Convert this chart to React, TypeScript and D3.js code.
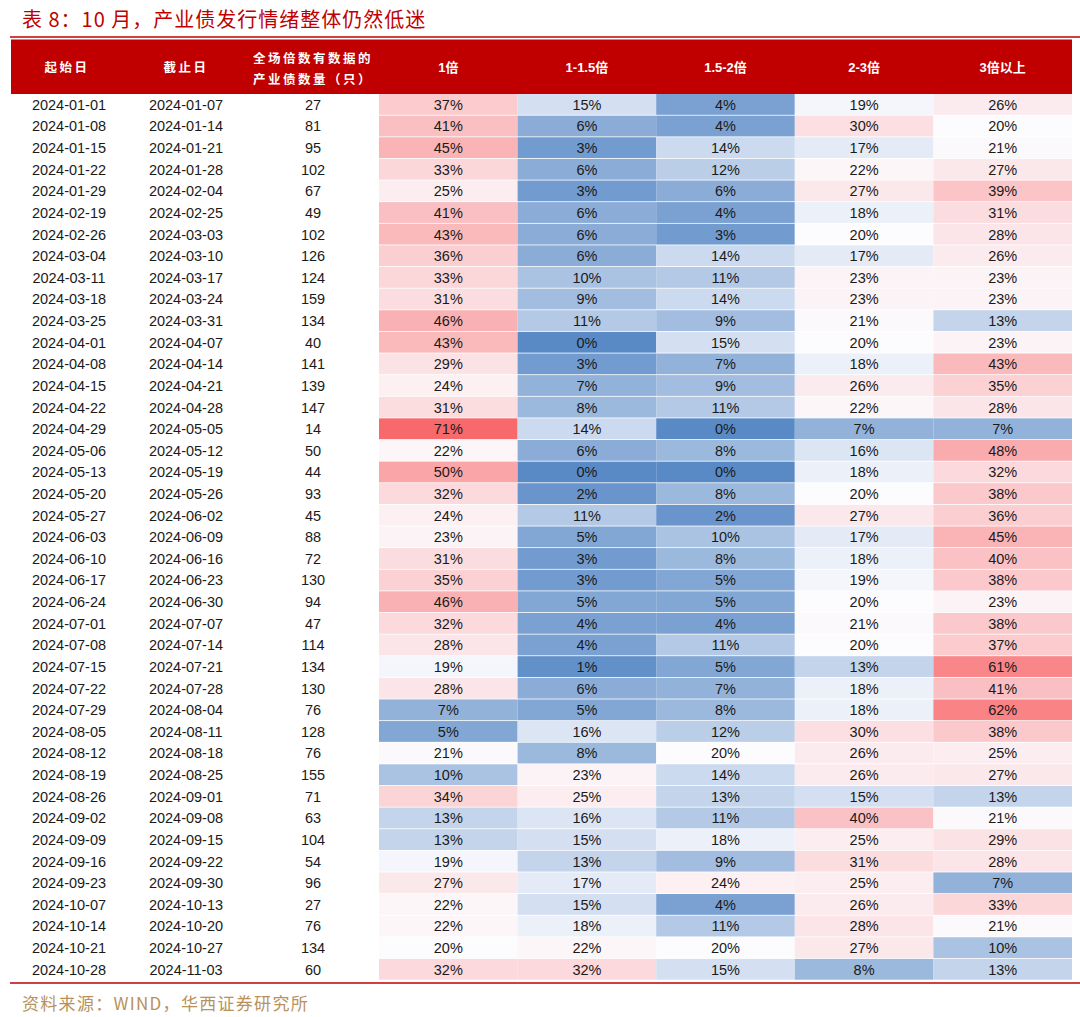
import React from "react";
import * as d3 from "d3";

const startDates = ["2024-01-01","2024-01-08","2024-01-15","2024-01-22","2024-01-29","2024-02-19","2024-02-26","2024-03-04","2024-03-11","2024-03-18","2024-03-25","2024-04-01","2024-04-08","2024-04-15","2024-04-22","2024-04-29","2024-05-06","2024-05-13","2024-05-20","2024-05-27","2024-06-03","2024-06-10","2024-06-17","2024-06-24","2024-07-01","2024-07-08","2024-07-15","2024-07-22","2024-07-29","2024-08-05","2024-08-12","2024-08-19","2024-08-26","2024-09-02","2024-09-09","2024-09-16","2024-09-23","2024-10-07","2024-10-14","2024-10-21","2024-10-28"];
const endDates = ["2024-01-07","2024-01-14","2024-01-21","2024-01-28","2024-02-04","2024-02-25","2024-03-03","2024-03-10","2024-03-17","2024-03-24","2024-03-31","2024-04-07","2024-04-14","2024-04-21","2024-04-28","2024-05-05","2024-05-12","2024-05-19","2024-05-26","2024-06-02","2024-06-09","2024-06-16","2024-06-23","2024-06-30","2024-07-07","2024-07-14","2024-07-21","2024-07-28","2024-08-04","2024-08-11","2024-08-18","2024-08-25","2024-09-01","2024-09-08","2024-09-15","2024-09-22","2024-09-30","2024-10-13","2024-10-20","2024-10-27","2024-11-03"];
const counts = [27,81,95,102,67,49,102,126,124,159,134,40,141,139,147,14,50,44,93,45,88,72,130,94,47,114,134,130,76,128,76,155,71,63,104,54,96,27,76,134,60];
const mult1 = [37,41,45,33,25,41,43,36,33,31,46,43,29,24,31,71,22,50,32,24,23,31,35,46,32,28,19,28,7,5,21,10,34,13,13,19,27,22,22,20,32];
const mult1to15 = [15,6,3,6,3,6,6,6,10,9,11,0,3,7,8,14,6,0,2,11,5,3,3,5,4,4,1,6,5,16,8,23,25,16,15,13,17,15,18,22,32];
const mult15to2 = [4,4,14,12,6,4,3,14,11,14,9,15,7,9,11,0,8,0,8,2,10,8,5,5,4,11,5,7,8,12,20,14,13,11,18,9,24,4,11,20,15];
const mult2to3 = [19,30,17,22,27,18,20,17,23,23,21,20,18,26,22,7,16,18,20,27,17,18,19,20,21,20,13,18,18,30,26,26,15,40,25,31,25,26,28,27,8];
const mult3plus = [26,20,21,27,39,31,28,26,23,23,13,23,43,35,28,7,48,32,38,36,45,40,38,23,38,37,61,41,62,38,25,27,13,21,29,28,7,33,21,10,13];
const headers = ["1倍","1-1.5倍","1.5-2倍","2-3倍","3倍以上"];

const title = "表 8：10 月，产业债发行情绪整体仍然低迷";
const source = "资料来源：WIND，华西证券研究所";

export default function App() {
  const W = 1080, H = 1017;
  const series = [mult1, mult1to15, mult15to2, mult2to3, mult3plus];
  const n = startDates.length;
  const rowTop = 94, rowBottom = 980.5;
  const y = d3.scaleBand<number>().domain(d3.range(n)).range([rowTop, rowBottom]).padding(0);
  const x = d3.scaleBand<number>().domain(d3.range(5)).range([379, 1072]).padding(0);
  const allVals = series.flat();
  const color = d3.scaleLinear<string>()
    .domain([d3.min(allVals)!, 20, d3.max(allVals)!])
    .range(["#5A8AC6", "#FCFCFF", "#F8696B"])
    .interpolate(d3.interpolateRgb)
    .clamp(true);
  const numFont = "'Liberation Sans', Arial, sans-serif";
  const cjkFont = "'Noto Sans CJK SC', sans-serif";
  const hdrY = 67;
  return (
    <svg width={W} height={H} style={{ position: "absolute", left: 0, top: 0, background: "#fff" }}>
      <rect x={0} y={0} width={W} height={H} fill="#fff" />
      <text x={22} y={27} fontFamily={cjkFont} fontSize={20} fill="#C00000" letterSpacing={1}>{title}</text>
      <line x1={10} x2={1080} y1={37} y2={37} stroke="#C00000" strokeWidth={1.5} />
      <rect x={11} y={39.5} width={1061} height={54.5} fill="#C00000" />
      <g fill="#fff" fontFamily={cjkFont} fontWeight={700} fontSize={12.5} textAnchor="middle">
        <text x={67} y={hdrY + 4.5} letterSpacing={2.5}>起始日</text>
        <text x={186} y={hdrY + 4.5} letterSpacing={2.5}>截止日</text>
        <text x={313} y={58 + 4.5} letterSpacing={2.5}>全场倍数有数据的</text>
        <text x={313} y={79 + 4.5} letterSpacing={2.5}>产业债数量（只）</text>
        {headers.map((h, j) => (
          <text key={h} x={x(j)! + x.bandwidth() / 2} y={hdrY + 5} fontFamily={numFont + ", 'Noto Sans CJK SC'"} fontSize={13}>{h}</text>
        ))}
      </g>
      {series.map((s, j) => (
        <g key={j}>
          {s.map((v, i) => (
            <rect key={i} x={x(j)!} y={y(i)!} width={x.bandwidth()} height={y.bandwidth() - 0.8} fill={color(v)} />
          ))}
        </g>
      ))}
      <g fontFamily={numFont} fontSize={14.5} fill="#1a1a1a" textAnchor="middle">
        {startDates.map((d, i) => (
          <g key={i}>
            <text x={69} y={y(i)! + y.bandwidth() / 2 + 5}>{d}</text>
            <text x={186} y={y(i)! + y.bandwidth() / 2 + 5}>{endDates[i]}</text>
            <text x={313} y={y(i)! + y.bandwidth() / 2 + 5}>{counts[i]}</text>
            {series.map((s, j) => (
              <text key={j} x={x(j)! + x.bandwidth() / 2} y={y(i)! + y.bandwidth() / 2 + 5}>{s[i] + "%"}</text>
            ))}
          </g>
        ))}
      </g>
      <line x1={10} x2={1080} y1={983} y2={983} stroke="#C00000" strokeWidth={1.5} />
      <text x={22} y={1010} fontFamily={cjkFont} fontSize={17} fill="#B8925A" letterSpacing={1.3}>{source}</text>
    </svg>
  );
}
